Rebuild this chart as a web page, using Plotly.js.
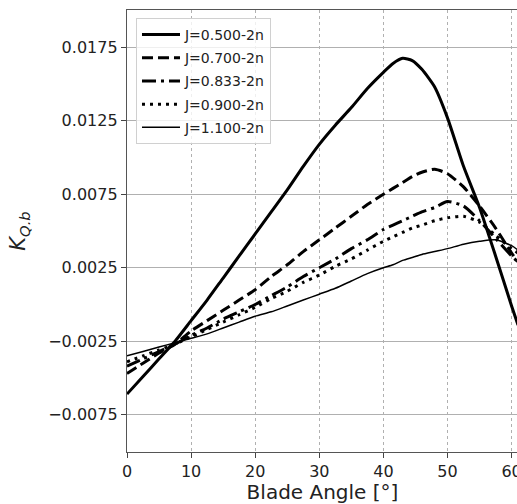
<!DOCTYPE html>
<html>
<head>
<meta charset="utf-8">
<script src="https://cdn.plot.ly/plotly-3.0.1.min.js"></script>
<style>
html, body { margin: 0; padding: 0; overflow: hidden; background: #fff; }
#chart { width: 545px; height: 504px; }
</style>
</head>
<body>
<div id="chart"></div>
<script>
// Blade angle [deg]
const angle = [0, 2.5, 5, 7.5, 10, 12.5, 15, 17.5, 20, 22.5, 25, 27.5, 30, 32.5, 35, 37.5, 40, 41.5, 43, 44.5, 46, 48, 50, 52.5, 55, 57.5, 60, 61];

const kq_J0500 = [-0.0061, -0.0049, -0.0037, -0.0025, -0.0011, 0.0003, 0.0018, 0.0033, 0.0048, 0.0063, 0.0078, 0.0094, 0.0109, 0.0122, 0.0134, 0.0147, 0.0158, 0.0164, 0.01675, 0.0166, 0.0160, 0.0148, 0.0127, 0.0094, 0.0066, 0.0033, -0.0001, -0.0014];
const kq_J0700 = [-0.0047, -0.0040, -0.0033, -0.0027, -0.0018, -0.0011, -0.0004, 0.0003, 0.0010, 0.0019, 0.0027, 0.0036, 0.0044, 0.0052, 0.0060, 0.0068, 0.0075, 0.0079, 0.0083, 0.0087, 0.0090, 0.0092, 0.0089, 0.0080, 0.0067, 0.0052, 0.0035, 0.0029];
const kq_J0833 = [-0.0042, -0.0037, -0.0032, -0.0027, -0.0021, -0.0016, -0.0010, -0.0005, 0.0000, 0.0006, 0.0012, 0.0019, 0.0025, 0.0031, 0.0038, 0.0044, 0.0051, 0.0054, 0.0057, 0.0060, 0.0063, 0.0066, 0.0070, 0.0067, 0.0057, 0.0045, 0.0033, 0.0029];
const kq_J0900 = [-0.0039, -0.0035, -0.0031, -0.0027, -0.0022, -0.0017, -0.0012, -0.0007, -0.0002, 0.0004, 0.0009, 0.0015, 0.0020, 0.0026, 0.0031, 0.0037, 0.0043, 0.0046, 0.0049, 0.0052, 0.0054, 0.0057, 0.0059, 0.0060, 0.0056, 0.0047, 0.0038, 0.0035];
const kq_J1100 = [-0.0035, -0.0032, -0.0029, -0.0026, -0.0023, -0.0020, -0.0016, -0.0012, -0.0008, -0.0005, -0.0001, 0.0003, 0.0007, 0.0011, 0.0016, 0.0021, 0.0025, 0.0027, 0.0030, 0.0032, 0.0034, 0.0036, 0.0038, 0.0041, 0.0043, 0.0044, 0.0040, 0.0037];

const seriesNames = ["J=0.500-2n", "J=0.700-2n", "J=0.833-2n", "J=0.900-2n", "J=1.100-2n"];
const seriesData = [kq_J0500, kq_J0700, kq_J0833, kq_J0900, kq_J1100];

const xTicks = [0, 10, 20, 30, 40, 50, 60];
const yTicks = [-0.0075, -0.0025, 0.0025, 0.0075, 0.0125, 0.0175];

const styles = [
  { width: 3, dash: "solid" },
  { width: 3, dash: "11px,5px" },
  { width: 3, dash: "14px,5px,3px,5px" },
  { width: 3, dash: "3px,5px" },
  { width: 1.5, dash: "solid" }
];

const traces = seriesData.map((ys, i) => ({
  x: angle,
  y: ys,
  name: seriesNames[i],
  legendgroup: "g" + i,
  type: "scatter",
  mode: "lines",
  line: { color: "#000", width: styles[i].width, dash: styles[i].dash, shape: "spline", smoothing: 0.6 }
}));

const font = "DejaVu Sans, sans-serif";

const layout = {
  width: 545,
  height: 504,
  margin: { l: 127, r: 27, t: 10, b: 52, pad: 0 },
  paper_bgcolor: "#fff",
  plot_bgcolor: "#fff",
  font: { family: font, color: "#222" },
  showlegend: true,
  legend: {
    x: 0.023, y: 0.982, xanchor: "left", yanchor: "top",
    bgcolor: "rgba(255,255,255,0.8)",
    bordercolor: "#d0d0d0", borderwidth: 1,
    font: { family: font, size: 14, color: "#222" },
    tracegroupgap: 2,
    itemwidth: 38
  },
  xaxis: {
    range: [0, 61],
    tickvals: xTicks,
    ticktext: xTicks.map(String),
    ticks: "outside", ticklen: 5, tickwidth: 1, tickcolor: "#444",
    showline: true, linecolor: "#555", linewidth: 1.2, mirror: true,
    showgrid: true, gridcolor: "#b0b0b0", gridwidth: 1, griddash: "dot",
    zeroline: false,
    tickfont: { family: font, size: 16, color: "#222" },
    title: { text: "Blade Angle [°]", font: { family: font, size: 20, color: "#222" }, standoff: 4 }
  },
  yaxis: {
    range: [-0.01004, 0.02004],
    tickvals: yTicks,
    tickformat: ".4f",
    ticks: "outside", ticklen: 5, tickwidth: 1, tickcolor: "#444",
    showline: true, linecolor: "#555", linewidth: 1.2, mirror: true,
    showgrid: true, gridcolor: "#b0b0b0", gridwidth: 1,
    zeroline: false,
    tickfont: { family: font, size: 16, color: "#222" },
    title: { text: "<i>K</i><sub><i>Q.b</i></sub>", font: { family: font, size: 21, color: "#222" }, standoff: 16 }
  }
};

Plotly.newPlot("chart", traces, layout, { displayModeBar: false, staticPlot: true });
</script>
</body>
</html>
